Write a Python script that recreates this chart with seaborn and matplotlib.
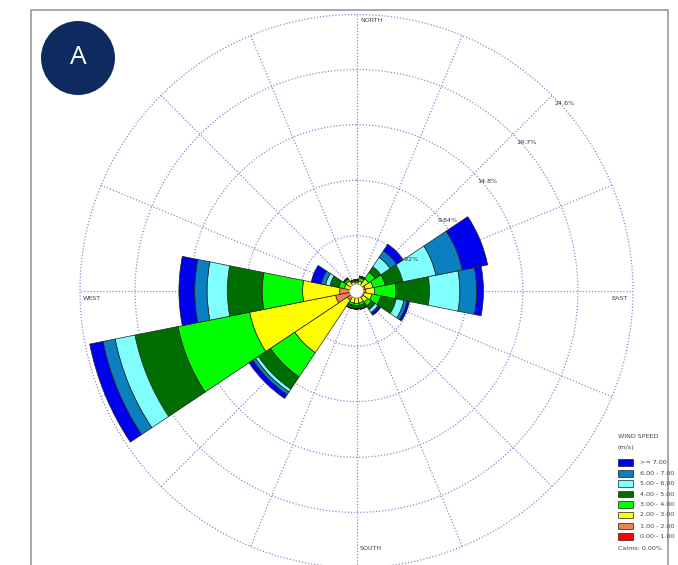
import numpy as np
import matplotlib
matplotlib.use("Agg")
import matplotlib.pyplot as plt
import seaborn as sns
from matplotlib.patches import Circle, Rectangle

# wind directions, clockwise from north
directions = ["N", "NNE", "NE", "ENE", "E", "ESE", "SE", "SSE",
              "S", "SSW", "SW", "WSW", "W", "WNW", "NW", "NNW"]

# frequency (%) of each speed class per direction
spd_0_1 = [0, 0, 0, 0, 0, 0, 0, 0, 0, 0, 0, 0, 0, 0, 0, 0]
spd_1_2 = [0.55, 0.55, 0.6, 0.8, 0.8, 0.7, 0.7, 0.6, 0.6, 0.6, 1.0, 1.9, 1.5, 0.6, 0.6, 0.55]
spd_2_3 = [0.25, 0.35, 0.7, 0.7, 0.8, 0.7, 0.5, 0.5, 0.5, 0.5, 5.6, 7.8, 3.3, 0.5, 0.5, 0.3]
spd_3_4 = [0.1, 0.3, 0.7, 1.1, 1.9, 0.8, 0.4, 0.2, 0.2, 0.2, 2.6, 6.5, 3.6, 0.5, 0.2, 0.1]
spd_4_5 = [0.1, 0.1, 0.6, 1.6, 3.0, 1.4, 0.4, 0.3, 0.3, 0.3, 1.3, 3.9, 3.1, 0.8, 0.1, 0.05]
spd_5_6 = [0, 0.05, 1.0, 3.0, 2.7, 0.7, 0.3, 0.05, 0, 0, 0.3, 1.8, 1.8, 0.4, 0, 0]
spd_6_7 = [0, 0, 0.7, 2.4, 1.5, 0.3, 0.1, 0, 0, 0, 0.3, 1.1, 1.1, 0.4, 0, 0]
spd_7_up = [0, 0, 0.7, 2.3, 0.6, 0.2, 0.2, 0, 0, 0, 0.4, 1.2, 1.4, 0.9, 0, 0]

speed_labels = ["0.00 - 1.00", "1.00 - 2.00", "2.00 - 3.00", "3.00 - 4.00",
                "4.00 - 5.00", "5.00 - 6.00", "6.00 - 7.00", ">= 7.00"]
ring_values = [4.92, 9.84, 14.8, 19.7, 24.6]
ring_labels = ["4.92%", "9.84%", "14.8%", "19.7%", "24.6%"]

speeds = [spd_0_1, spd_1_2, spd_2_3, spd_3_4, spd_4_5, spd_5_6, spd_6_7, spd_7_up]
colors = sns.color_palette(["#ff0000", "#f08050", "#ffff00", "#00ff00",
                            "#006e00", "#80ffff", "#0a80c0", "#0000f0"])

sns.set_style("white")
W, H = 678, 565
fig = plt.figure(figsize=(W / 100, H / 100), dpi=100)

# frame and badge
fig.patches.append(Rectangle((31 / W, 1 - 580 / H), 637 / W, 570 / H, transform=fig.transFigure,
                             fill=False, edgecolor="#9a9a9a", linewidth=1.2))

cx, cy, R = 356.5, 291, 276.5
ax = fig.add_axes([(cx - R) / W, (H - cy - R) / H, 2 * R / W, 2 * R / H], projection="polar")
ax.set_theta_zero_location("N")
ax.set_theta_direction(-1)

theta = np.deg2rad(np.arange(16) * 22.5)
bottom = np.zeros(16)
for vals, col in zip(speeds, colors):
    vals = np.array(vals)
    ax.bar(theta, vals, width=2 * np.pi / 16, bottom=bottom, color=col,
           edgecolor="#202020", linewidth=0.5, zorder=2)
    bottom = bottom + vals

grid_col = "#8c8cd2"
ax.set_ylim(0, ring_values[-1])
ax.set_yticks(ring_values[:-1])
ax.set_yticklabels([])
ax.set_xticks(theta)
ax.set_xticklabels([])
ax.set_axisbelow(True)
ax.grid(True, color=grid_col, linestyle=(0, (1, 1.5)), linewidth=0.9)
ax.spines["polar"].set_visible(False)
ax.patch.set_alpha(0)
tt = np.linspace(0, 2 * np.pi, 500)
ax.plot(tt, np.full_like(tt, ring_values[-1]), color=grid_col, linestyle=(0, (1, 1.5)),
        linewidth=0.9, clip_on=False, zorder=0.5)

# calm circle
ax.add_patch(Circle((0.5, 0.5), 7 / (2 * R), transform=ax.transAxes, facecolor="white",
                    edgecolor="#999999", linewidth=0.5, zorder=5))

# ring labels along NE
for v, lab in zip(ring_values, ring_labels):
    ax.annotate(lab, xy=(np.deg2rad(45), v), xytext=(3, -8), textcoords="offset pixels",
                ha="left", va="center", fontsize=4.6, color="#333333", annotation_clip=False)

def ftext(x, y, s, **kw):
    fig.text(x / W, 1 - y / H, s, **kw)

small = dict(fontsize=4.6, color="#444444", va="center")
ftext(360, 21, "NORTH", ha="left", **small)
ftext(360, 549, "SOUTH", ha="left", **small)
ftext(83, 299, "WEST", ha="left", **small)
ftext(628, 299, "EAST", ha="right", **small)

# legend
ftext(618, 437, "WIND SPEED", ha="left", **small)
ftext(618, 448, "(m/s)", ha="left", **small)
row_y = [536.7, 526, 515, 504.7, 494, 483.3, 473.3, 462.7]
for yy, col, lab in zip(row_y, colors, speed_labels):
    fig.patches.append(Rectangle((618 / W, 1 - (yy + 3.3) / H), 15 / W, 6.6 / H,
                                 transform=fig.transFigure, facecolor=col,
                                 edgecolor="#202020", linewidth=0.5))
    ftext(640, yy, lab, ha="left", **small)
ftext(618, 548, "Calms: 0.00%", ha="left", **small)

# panel badge
fig.patches.append(Circle((78 / W, 1 - 58 / H), 37 / W, transform=fig.transFigure,
                          facecolor="#0f2a5f", edgecolor="none"))
badge = fig.add_axes([(78 - 37) / W, 1 - (58 + 37) / H, 74 / W, 74 / H])
badge.set_axis_off()
badge.add_patch(Circle((0.5, 0.5), 0.5, facecolor="#0f2a5f", edgecolor="none"))
badge.set_xlim(0, 1)
badge.set_ylim(0, 1)
badge.text(0.5, 0.5, "A", ha="center", va="center", fontsize=19, color="white",
           family=["Open Sans", "DejaVu Sans"])
fig.patches.pop()

fig.savefig("out.png", dpi=100)
